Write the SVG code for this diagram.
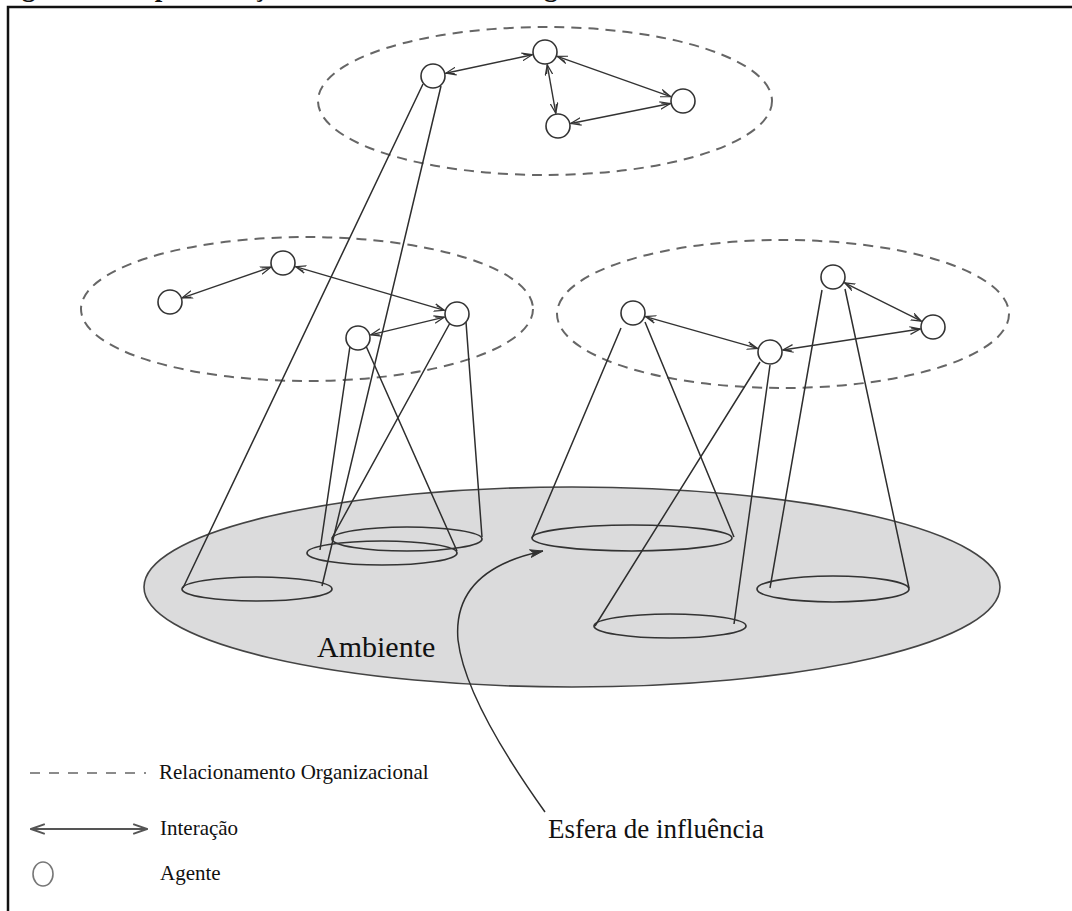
<svg xmlns="http://www.w3.org/2000/svg" width="1072" height="911" viewBox="0 0 1072 911">
  <style>
    .frame { stroke: #111; stroke-width: 2.5; fill: none; }
    .org { fill: none; stroke: #666; stroke-width: 2; stroke-dasharray: 10 7; }
    .agent { fill: #fff; stroke: #333; stroke-width: 1.6; }
    .inter { stroke: #333; stroke-width: 1.4; fill: none; marker-start: url(#barb); marker-end: url(#barb); }
    .cone { stroke: #2e2e2e; stroke-width: 1.5; fill: none; }
    .base { fill: none; stroke: #333; stroke-width: 1.7; }
    .env { fill: #dbdbdc; stroke: #444; stroke-width: 1.6; }
    .label { font-family: "Liberation Serif", "Times New Roman", serif; fill: #111; }
  </style>
  <defs>
    <marker id="barb" viewBox="0 0 10 8" refX="9.5" refY="4" markerWidth="11" markerHeight="9" markerUnits="userSpaceOnUse" orient="auto-start-reverse">
      <path d="M0,0.5 L9.5,4 L0,7.5 M1.5,2 L9.5,4" fill="none" stroke="#333" stroke-width="1.1"/>
    </marker>
    <marker id="barbBig" viewBox="0 0 12 10" refX="11.5" refY="5" markerWidth="16" markerHeight="12" markerUnits="userSpaceOnUse" orient="auto-start-reverse">
      <path d="M0,1 L11.5,5 L0,9" fill="none" stroke="#555" stroke-width="1.6"/>
    </marker>
    <marker id="tip" viewBox="0 0 12 8" refX="11.5" refY="4" markerWidth="14" markerHeight="9" markerUnits="userSpaceOnUse" orient="auto">
      <path d="M0,0.5 L11.5,4 L0,7.5 L3,4 Z" fill="#333" stroke="#333" stroke-width="0.8"/>
    </marker>
  </defs>

  <rect width="1072" height="911" fill="#fff"/>

  <!-- caption line (mostly above the frame) -->
  <text class="label" x="-2" y="-4" font-size="27" font-weight="bold">Figura 3 – Representação de um sistema multiagente</text>

  <!-- frame -->
  <path class="frame" d="M8,911 L8,7 L1072,7"/>

  <!-- environment -->
  <g id="ambiente">
    <ellipse class="env" cx="572" cy="587" rx="428" ry="100"/>
    <text class="label" x="317" y="657" font-size="30">Ambiente</text>
  </g>

  <!-- organisational groups -->
  <g id="org-top"><ellipse class="org" cx="545" cy="101" rx="227" ry="74"/></g>
  <g id="org-left"><ellipse class="org" cx="307" cy="309" rx="226" ry="72"/></g>
  <g id="org-right"><ellipse class="org" cx="783" cy="314" rx="226" ry="74"/></g>

  <!-- spheres of influence: bases on the environment -->
  <g id="spheres">
    <ellipse class="base" cx="257" cy="589" rx="75" ry="12"/>
    <ellipse class="base" cx="382" cy="553" rx="75" ry="12"/>
    <ellipse class="base" cx="407" cy="539" rx="75" ry="12"/>
    <ellipse class="base" cx="632" cy="538" rx="100" ry="13"/>
    <ellipse class="base" cx="670" cy="626" rx="76" ry="12"/>
    <ellipse class="base" cx="833" cy="589" rx="76" ry="13"/>
  </g>

  <!-- connectors: cone edges and interactions -->
  <g id="connectors">
    <path class="cone" d="M423,84 L183,588 M441,86 L322,586"/>
    <path class="cone" d="M350,346 L320,550 M366,346 L457,551"/>
    <path class="cone" d="M450,323 L332,538 M466,322 L482,537"/>
    <path class="cone" d="M621,328 L532,538 M645,322 L734,537"/>
    <path class="cone" d="M760,362 L595,626 M770,365 L734,624"/>
    <path class="cone" d="M822,290 L770,588 M845,289 L909,588"/>

    <line class="inter" x1="445.7" y1="73.3" x2="532.3" y2="54.7"/>
    <line class="inter" x1="547.2" y1="64.8" x2="555.8" y2="113.2"/>
    <line class="inter" x1="557.3" y1="56.4" x2="670.7" y2="96.6"/>
    <line class="inter" x1="570.7" y1="123.5" x2="670.3" y2="103.5"/>

    <line class="inter" x1="182.3" y1="297.8" x2="270.7" y2="267.2"/>
    <line class="inter" x1="295.5" y1="266.7" x2="444.5" y2="310.3"/>
    <line class="inter" x1="370.6" y1="334.9" x2="444.4" y2="317.1"/>

    <line class="inter" x1="645.5" y1="316.6" x2="757.5" y2="348.4"/>
    <line class="inter" x1="782.8" y1="350" x2="920.2" y2="329"/>
    <line class="inter" x1="844.6" y1="282.8" x2="921.4" y2="321.2"/>

    <path class="cone" d="M545,812 Q465,700 458,640 Q452,570 543,551" marker-end="url(#tip)"/>
  </g>

  <!-- agents -->
  <g id="agent-a"><circle class="agent" cx="433" cy="76" r="12"/></g>
  <g id="agent-b"><circle class="agent" cx="545" cy="52" r="12"/></g>
  <g id="agent-c"><circle class="agent" cx="683" cy="101" r="12"/></g>
  <g id="agent-d"><circle class="agent" cx="558" cy="126" r="12"/></g>
  <g id="agent-e"><circle class="agent" cx="170" cy="302" r="12"/></g>
  <g id="agent-f"><circle class="agent" cx="283" cy="263" r="12"/></g>
  <g id="agent-g"><circle class="agent" cx="457" cy="314" r="12"/></g>
  <g id="agent-h"><circle class="agent" cx="358" cy="338" r="12"/></g>
  <g id="agent-i"><circle class="agent" cx="633" cy="313" r="12"/></g>
  <g id="agent-j"><circle class="agent" cx="770" cy="352" r="12"/></g>
  <g id="agent-k"><circle class="agent" cx="833" cy="277" r="12"/></g>
  <g id="agent-l"><circle class="agent" cx="933" cy="327" r="12"/></g>

  <g id="esfera-label">
    <text class="label" x="548" y="838" font-size="27">Esfera de influência</text>
  </g>

  <!-- legend -->
  <g id="legend">
    <line x1="30" y1="773" x2="146" y2="773" stroke="#666" stroke-width="1.6" stroke-dasharray="10 9"/>
    <text class="label" x="159" y="779" font-size="21">Relacionamento Organizacional</text>
    <line x1="31" y1="829" x2="147" y2="829" stroke="#555" stroke-width="1.8" marker-start="url(#barbBig)" marker-end="url(#barbBig)"/>
    <text class="label" x="160" y="835" font-size="21">Interação</text>
    <ellipse cx="43" cy="874" rx="10" ry="12" fill="#fff" stroke="#777" stroke-width="1.6"/>
    <text class="label" x="160" y="880" font-size="21">Agente</text>
  </g>
</svg>
